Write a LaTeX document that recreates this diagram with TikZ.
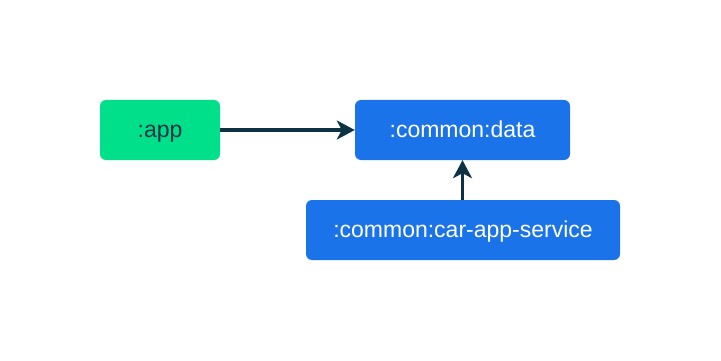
\documentclass[tikz,border=0pt]{standalone}
\usepackage{fontspec}
\setmainfont{Liberation Sans}
\usetikzlibrary{arrows.meta}
\definecolor{appgreen}{RGB}{0,224,138}
\definecolor{modblue}{RGB}{26,115,232}
\definecolor{arrowc}{RGB}{13,50,68}
\begin{document}
\begin{tikzpicture}[x=1pt,y=-1pt,
  box/.style={rounded corners=6pt, inner sep=0pt, text height=14.6pt, text depth=0pt, font=\fontsize{23}{26}\selectfont},
  greenbox/.style={box, fill=appgreen, text=arrowc},
  bluebox/.style={box, fill=modblue, text=white},
  dep/.style={draw=arrowc, line width=3pt, -{Stealth[length=18pt,width=19pt,inset=5pt]}}]
\useasboundingbox (0,0) rectangle (721,361);
\node[greenbox, minimum width=120pt, minimum height=60pt] (app) at (160,130) {:app};
\node[bluebox, minimum width=215pt, minimum height=60pt] (data) at (462.5,130) {:common:data};
\node[bluebox, minimum width=314pt, minimum height=60pt] (svc) at (463,230) {:common:car-app-service};
\draw[dep] (app.east) -- (data.west);
\draw[dep] (svc.north -| data.south) -- (data.south);
\end{tikzpicture}
\end{document}
